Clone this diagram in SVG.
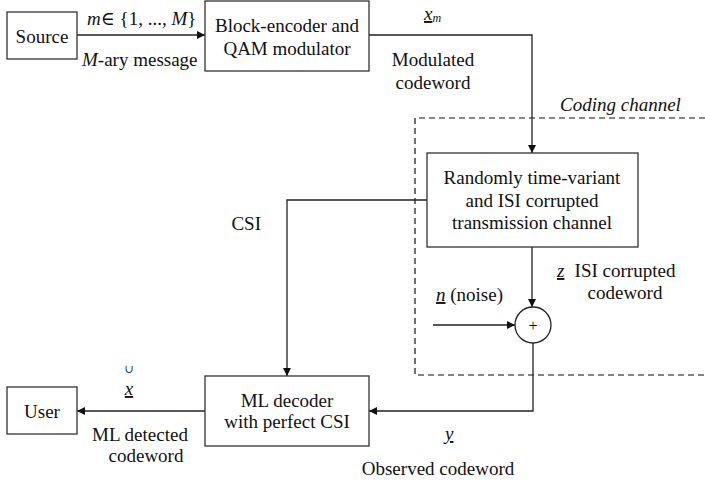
<svg xmlns="http://www.w3.org/2000/svg" width="705" height="489" viewBox="0 0 705 489" font-family="'Liberation Serif', Tinos, 'Times New Roman', 'DejaVu Serif', serif">
<style>
text{font-family:"Liberation Serif",Tinos,"Times New Roman","DejaVu Serif",serif;font-size:19px;fill:#111}
.c{text-anchor:middle}
.i{font-style:italic}
.u{text-decoration:underline}
.box{fill:#fff;stroke:#333;stroke-width:1.3}
.ln{fill:none;stroke:#222;stroke-width:1.3}
</style>
<defs>
<marker id="ah" viewBox="0 0 10 10" refX="10" refY="5" markerWidth="8" markerHeight="8" markerUnits="userSpaceOnUse" orient="auto">
<path d="M0,0 L10,5 L0,10 z" fill="#111"/>
</marker>
</defs>
<path d="M705,118 H415 V375 H705" fill="none" stroke="#111" stroke-width="1.2" stroke-dasharray="6 4"/>
<text x="560" y="111" class="i">Coding channel</text>
<g id="connectors">
<path class="ln" d="M77,35 H205" marker-end="url(#ah)"/>
<path class="ln" d="M369,35 H532 V153" marker-end="url(#ah)"/>
<path class="ln" d="M532,247 V307" marker-end="url(#ah)"/>
<path class="ln" d="M433,325 H515" marker-end="url(#ah)"/>
<path class="ln" d="M533,343 V411 H369" marker-end="url(#ah)"/>
<path class="ln" d="M427,200 H287 V376" marker-end="url(#ah)"/>
<path class="ln" d="M205,411 H77" marker-end="url(#ah)"/>
</g>
<g id="source">
<rect class="box" x="7" y="12" width="70" height="47"/>
<text x="42" y="43" class="c">Source</text>
</g>
<g id="encoder">
<rect class="box" x="205" y="1" width="164" height="70"/>
<text x="287" y="32" class="c">Block-encoder and</text>
<text x="287" y="55" class="c">QAM modulator</text>
</g>
<g id="channel">
<rect class="box" x="427" y="153" width="211" height="94"/>
<text x="532" y="184" class="c">Randomly time-variant</text>
<text x="532" y="207" class="c">and ISI corrupted</text>
<text x="532" y="229" class="c">transmission channel</text>
</g>
<g id="adder">
<circle cx="533" cy="325" r="18" fill="#fff" stroke="#222" stroke-width="1.3"/>
<text x="533" y="331" class="c" style="font-size:16px">+</text>
</g>
<g id="decoder">
<rect class="box" x="205" y="376" width="164" height="70"/>
<text x="287" y="407" class="c">ML decoder</text>
<text x="287" y="428" class="c">with perfect CSI</text>
</g>
<g id="user">
<rect class="box" x="7" y="387" width="70" height="47"/>
<text x="42" y="418" class="c">User</text>
</g>
<g id="labels">
<text x="87" y="25"><tspan class="i">m</tspan>∈ {1, ..., <tspan class="i">M</tspan>}</text>
<text x="82" y="66"><tspan class="i">M</tspan>-ary message</text>
<text x="424" y="20" class="i"><tspan class="u">x</tspan><tspan style="font-size:12px" dy="2">m</tspan></text>
<text x="433" y="66" class="c">Modulated</text>
<text x="433" y="89" class="c">codeword</text>
<text x="261" y="230" style="text-anchor:end">CSI</text>
<text x="557" y="277" class="i u">z</text>
<text x="625" y="277" class="c">ISI corrupted</text>
<text x="625" y="299" class="c">codeword</text>
<text x="436" y="301"><tspan class="i u">n</tspan> (noise)</text>
<text x="129" y="373" class="c" style="font-size:11px">∪</text>
<text x="129" y="395" class="c i u">x</text>
<text x="140" y="441" class="c">ML detected</text>
<text x="146" y="462" class="c">codeword</text>
<text x="445" y="440" class="i u">y</text>
<text x="438" y="475" class="c">Observed codeword</text>
</g>
</svg>
